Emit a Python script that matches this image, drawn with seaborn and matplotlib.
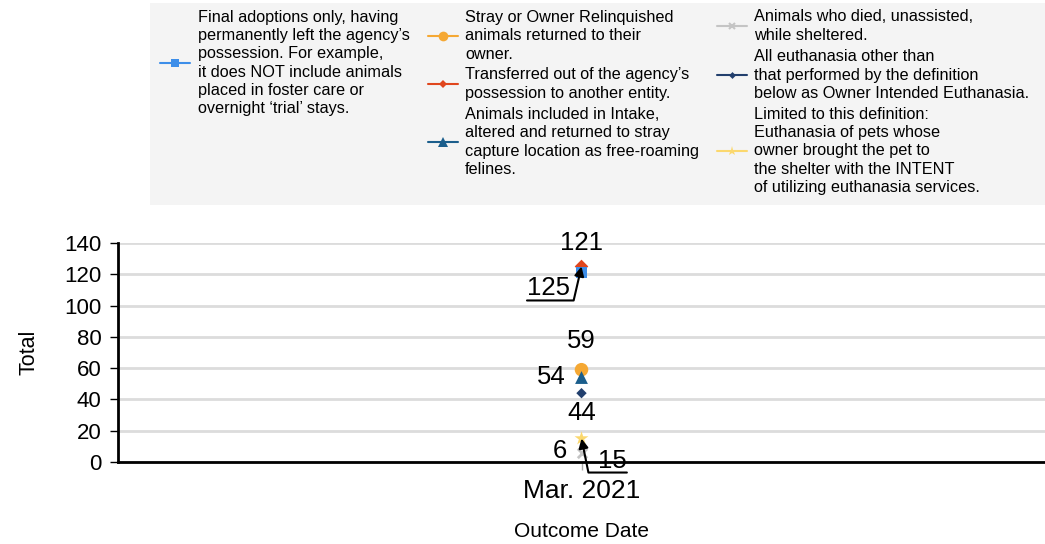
import matplotlib
matplotlib.use("Agg")
import matplotlib.pyplot as plt
from matplotlib.lines import Line2D
from matplotlib.patches import Rectangle
import seaborn as sns
import pandas as pd

# ---------------- data ----------------
categories = ["Mar. 2021"]
series_names = ["Adoption", "Return to Owner", "Transfer", "Return to Field",
                "Died in Care", "Euthanasia", "Owner Intended Euthanasia"]
values = [121, 59, 125, 54, 6, 44, 15]
legend_texts = [
    "Final adoptions only, having\npermanently left the agency\u2019s\npossession. For example,\nit does NOT include animals\nplaced in foster care or\novernight \u2018trial\u2019 stays.",
    "Stray or Owner Relinquished\nanimals returned to their\nowner.",
    "Transferred out of the agency\u2019s\npossession to another entity.",
    "Animals included in Intake,\naltered and returned to stray\ncapture location as free-roaming\nfelines.",
    "Animals who died, unassisted,\nwhile sheltered.",
    "All euthanasia other than\nthat performed by the definition\nbelow as Owner Intended Euthanasia.",
    "Limited to this definition:\nEuthanasia of pets whose\nowner brought the pet to\nthe shelter with the INTENT\nof utilizing euthanasia services.",
]
y_ticks = [0, 20, 40, 60, 80, 100, 120, 140]
x_label = "Outcome Date"
y_label = "Total"

# ---------------- style ----------------
colors = ["#3d8ee9", "#f5a833", "#e0461d", "#1b5e8c", "#c4c4c4", "#223f6d", "#fbd86e"]
markers = ["s", "o", "D", "^", "x", "D", "*"]
sizes = [60, 95, 48, 85, 45, 28, 110]
leg_markers = ["s", "o", "D", "^", "x", "D", "*"]
leg_msize = [6, 7, 4.5, 6.5, 4, 3.5, 6.5]
zorders = [5, 4, 4, 5, 3, 3, 3]

sns.set_theme(style="white")
plt.rcParams["font.family"] = ["Liberation Sans", "DejaVu Sans"]

W, H = 1045, 544
fig = plt.figure(figsize=(W / 100, H / 100), dpi=100)
fig.patch.set_facecolor("white")


def fx(px):
    return px / W


def fy(py):
    return 1 - py / H


ax = fig.add_axes([fx(118), fy(462), fx(1045) - fx(118), fy(243) - fy(462)])

df = pd.DataFrame({
    "date": [categories[0]] * len(series_names),
    "series": series_names,
    "value": values,
})

for i, name in enumerate(series_names):
    sub = df[df["series"] == name]
    kw = dict(edgecolor="none") if markers[i] != "x" else dict(linewidth=2)
    sns.scatterplot(data=sub, x="date", y="value", ax=ax, color=colors[i],
                    marker=markers[i], s=sizes[i], zorder=zorders[i],
                    legend=False, **kw)

ax.set_xlim(-1, 1)
ax.set_ylim(0, 140)
ax.set_yticks(y_ticks)
ax.set_yticklabels([str(v) for v in y_ticks], fontsize=16, color="black")
ax.set_xticks([0])
ax.set_xticklabels(categories, fontsize=19, color="black")
ax.grid(axis="y", color="#dcdcdc", linewidth=2)
ax.grid(axis="x", visible=False)
ax.set_axisbelow(True)
for s in ["top", "right"]:
    ax.spines[s].set_visible(False)
for s in ["left", "bottom"]:
    ax.spines[s].set_color("black")
    ax.spines[s].set_linewidth(2)
ax.tick_params(axis="y", length=6, width=1, color="black", pad=6, left=True)
ax.tick_params(axis="x", length=6, width=1, color="#aaaaaa", pad=6, bottom=True)

ax.set_xlabel(x_label, fontsize=15, color="black")
ax.set_ylabel(y_label, fontsize=15.5, color="black")
ax.xaxis.set_label_coords(0.5, -0.275)
ax.yaxis.set_label_coords(-0.085, 0.5)

# ---------------- data labels ----------------
lab_fs = 18.5
label_offsets = {  # pixel offsets (x, y-up) from point
    "Adoption": (0, 30),
    "Return to Owner": (0, 29),
    "Return to Field": (-30, 1),
    "Died in Care": (-22, 2),
    "Euthanasia": (0, -20),
}
for name, v in zip(series_names, values):
    if name in label_offsets:
        ax.annotate(str(v), xy=(0, v), xytext=label_offsets[name],
                    textcoords="offset pixels", ha="center", va="center",
                    fontsize=lab_fs, color="black", zorder=10)

v_tr = values[series_names.index("Transfer")]
ax.annotate(str(v_tr), xy=(0, v_tr), xytext=(-33, -22), textcoords="offset pixels",
            ha="center", va="center", fontsize=lab_fs, color="black", zorder=10,
            arrowprops=dict(arrowstyle="-|>", color="black", lw=1.5,
                            mutation_scale=14, shrinkA=0, shrinkB=0,
                            relpos=(0, 0), patchA=None,
                            connectionstyle="angle,angleA=0,angleB=77,rad=0"))
v_oie = values[series_names.index("Owner Intended Euthanasia")]
ax.annotate(str(v_oie), xy=(0, v_oie), xytext=(31, -22), textcoords="offset pixels",
            ha="center", va="center", fontsize=lab_fs, color="black", zorder=10,
            arrowprops=dict(arrowstyle="-|>", color="black", lw=1.5,
                            mutation_scale=14, shrinkA=0, shrinkB=0,
                            relpos=(1, 0), patchA=None,
                            connectionstyle="angle,angleA=180,angleB=-78.5,rad=0"))

# ---------------- legend (manual, three columns) ----------------
fig.add_artist(Rectangle((fx(150), fy(205)), fx(1045) - fx(150), fy(3) - fy(205),
                         transform=fig.transFigure, facecolor="#f4f4f4",
                         edgecolor="none", zorder=0))
leg_layout = [  # (handle_x0, text_x, center_y)
    (160, 198, 63),
    (428, 465, 36),
    (428, 465, 84),
    (428, 465, 142),
    (717, 754, 26),
    (717, 754, 75),
    (717, 754, 151),
]
for i, (hx, tx, cy) in enumerate(leg_layout):
    fig.add_artist(Line2D([fx(hx), fx(hx + 30)], [fy(cy), fy(cy)],
                          transform=fig.transFigure, color=colors[i], lw=1.5,
                          marker=None))
    fig.add_artist(Line2D([fx(hx + 15)], [fy(cy)], transform=fig.transFigure,
                          color=colors[i], marker=leg_markers[i],
                          markersize=leg_msize[i], markeredgewidth=1.5 if leg_markers[i] == "x" else 0,
                          linestyle="none"))
    fig.text(fx(tx), fy(cy), legend_texts[i], ha="left", va="center",
             fontsize=11.7, color="black", linespacing=1.27)

fig.savefig("out.png", dpi=100)
